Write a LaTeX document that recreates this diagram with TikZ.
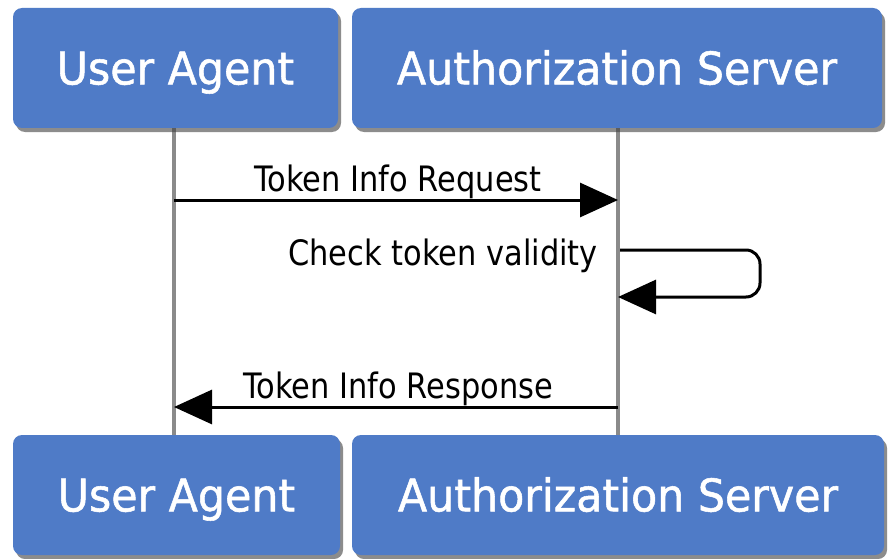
\documentclass[tikz,border=0pt]{standalone}
\usepackage{fontspec}
\setmainfont{DejaVu Sans}
\newfontfamily\boxfont[FakeStretch=0.95,FakeBold=1.2]{DejaVu Sans}
\newfontfamily\lblfont[FakeStretch=0.87]{DejaVu Sans}
\usetikzlibrary{arrows.meta,shadows}
\definecolor{boxblue}{HTML}{4F7BC7}
\definecolor{lifegray}{HTML}{8A8A8A}
\tikzset{
  actor/.style={fill=boxblue, rounded corners=9pt, minimum height=120pt, inner sep=0pt,
    text height=32.8pt, text depth=0pt,
    drop shadow={shadow xshift=3pt, shadow yshift=-4pt, opacity=0.6, fill=black!75},
    text=white, font=\boxfont\fontsize{45}{54}\selectfont},
  lifeline/.style={draw=lifegray, line width=3.2pt},
  msg/.style={draw=black, line width=3pt, -{Triangle[length=38pt,width=34pt]}},
  lbl/.style={font=\lblfont\fontsize{35}{42}\selectfont, text=black, inner sep=0pt}
}
\begin{document}
\begin{tikzpicture}[x=1pt,y=-1pt]
\useasboundingbox (0,0) rectangle (888,559);
\fill[white] (0,0) rectangle (888,559);
% lifelines
\coordinate (ua1) at (174,128);
\coordinate (ua2) at (174,435);
\coordinate (as1) at (618,128);
\coordinate (as2) at (618,435);
\draw[lifeline] (ua1) -- (ua2);
\draw[lifeline] (as1) -- (as2);
% actors
\node[actor, minimum width=325pt] (uaTop) at (175.5,68) {User Agent};
\node[actor, minimum width=530pt] (asTop) at (617,68) {Authorization Server};
\node[actor, minimum width=327pt] (uaBot) at (176.5,495) {User Agent};
\node[actor, minimum width=532pt] (asBot) at (618,495) {Authorization Server};
% messages
\coordinate (reqS) at (174,200);
\coordinate (reqE) at (618,200);
\draw[msg] (reqS) -- (reqE);
\node[lbl, anchor=base] (reqL) at (398,191) {Token Info Request};
\coordinate (selfS) at (620,250);
\coordinate (selfE) at (618,297);
\draw[msg, rounded corners=14pt] (selfS) -- (760,250) -- (760,297) -- (selfE);
\node[lbl, anchor=base east] (selfL) at (598,265) {Check token validity};
\coordinate (resS) at (618,407);
\coordinate (resE) at (174,407);
\draw[msg] (resS) -- (resE);
\node[lbl, anchor=base] (resL) at (398,398) {Token Info Response};
\end{tikzpicture}
\end{document}
